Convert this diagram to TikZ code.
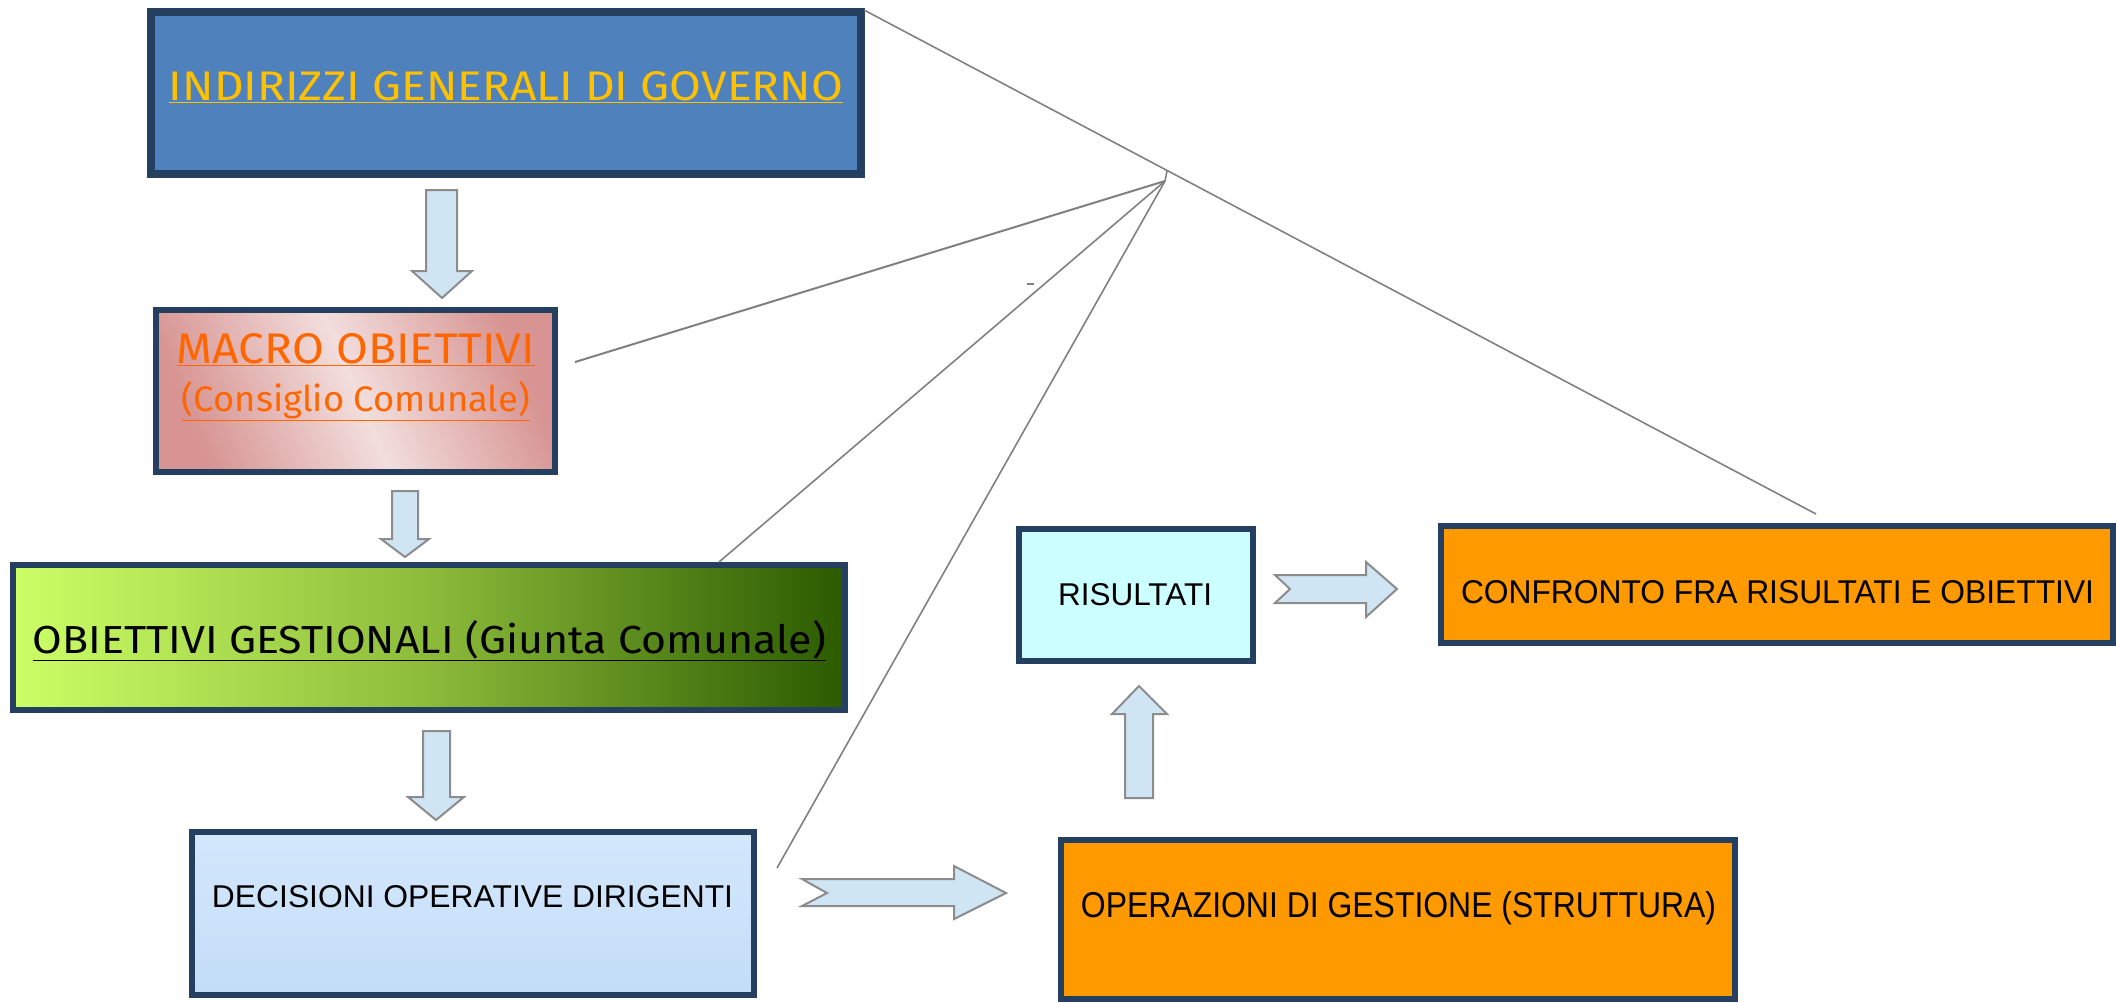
\documentclass[tikz,border=0pt]{standalone}
\usepackage{fontspec}
\setmainfont{Liberation Sans}
\newfontfamily\comicfont{Fira Sans}
\usepackage{graphicx}
\definecolor{navy}{HTML}{243F60}
\definecolor{topblue}{HTML}{4F81BD}
\definecolor{yellowT}{HTML}{FFC000}
\definecolor{orangeT}{HTML}{FF6600}
\definecolor{pinkD}{HTML}{D79492}
\definecolor{pinkL}{HTML}{F2DEDD}
\definecolor{greenL}{HTML}{CCFF66}
\definecolor{greenM}{HTML}{8CBB3A}
\definecolor{greenR}{HTML}{2B5A00}
\definecolor{skyT}{HTML}{D3E7FC}
\definecolor{skyB}{HTML}{C2DCF8}
\definecolor{orangeF}{HTML}{FF9900}
\definecolor{cyanF}{HTML}{CCFFFF}
\definecolor{arrowfill}{HTML}{D0E5F4}
\definecolor{arrowdraw}{HTML}{8C8C8C}
\definecolor{linegray}{HTML}{808080}
\newcommand{\ftext}[4]{\resizebox{#1pt}{#2pt}{\fontsize{#3pt}{#3pt}\selectfont #4}}
\begin{document}
\begin{tikzpicture}[x=1pt,y=-1pt,
  box/.style={rectangle, draw=navy, line width=6pt, inner sep=0pt, outer sep=0pt},
  blockarrow/.style={fill=arrowfill, draw=arrowdraw, line width=2pt, line join=miter},
  link/.style={draw=linegray, line width=1.6pt},
  lbl/.style={anchor=base, inner sep=0pt, outer sep=0pt}]
\useasboundingbox (0,0) rectangle (2116,1002);

% boxes
\node[box, line width=8pt, fill=topblue, minimum width=710pt, minimum height=162pt] (top) at (506,93) {};
\node[box, left color=pinkD, right color=pinkD, middle color=pinkL, shading angle=-67, minimum width=399pt, minimum height=162pt] (macro) at (355.5,391) {};
\node[box, left color=greenL, right color=greenR, middle color=greenM, minimum width=832pt, minimum height=145pt] (gest) at (429,637.5) {};
\node[box, top color=skyT, bottom color=skyB, middle color=skyT!60!skyB, minimum width=562pt, minimum height=163pt] (dec) at (473,913.5) {};
\node[box, fill=orangeF, minimum width=674pt, minimum height=159pt] (oper) at (1398,919.5) {};
\node[box, fill=cyanF, minimum width=234pt, minimum height=132pt] (ris) at (1136,595) {};
\node[box, fill=orangeF, minimum width=672pt, minimum height=117pt] (conf) at (1777,584.5) {};

% texts
\node[lbl, text=yellowT] (t1) at (506,100) {\ftext{674}{29}{40}{\comicfont\underline{INDIRIZZI GENERALI DI GOVERNO}}};
\node[lbl, text=orangeT] (t2) at (356,363) {\ftext{358}{30}{42}{\comicfont\underline{MACRO OBIETTIVI}}};
\node[lbl, text=orangeT] (t3) at (356,411) {\ftext{348}{30}{40}{\comicfont\underline{(Consiglio Comunale)}}};
\node[lbl, text=black] (t4) at (429.5,653) {\ftext{793}{33}{42}{\comicfont\underline{OBIETTIVI GESTIONALI (Giunta Comunale)}}};
\node[lbl] (t5) at (472.5,907) {\ftext{521}{22}{31}{DECISIONI OPERATIVE DIRIGENTI}};
\node[lbl] (t6) at (1398.5,917) {\ftext{635}{26}{34}{OPERAZIONI DI GESTIONE (STRUTTURA)}};
\node[lbl] (t7) at (1135,605) {\ftext{154}{22}{31}{RISULTATI}};
\node[lbl] (t8) at (1777.5,603) {\ftext{633}{23}{32}{CONFRONTO FRA RISULTATI E OBIETTIVI}};

% block arrows
\draw[blockarrow] (426,190) -- (457,190) -- (457,271) -- (472,271) -- (442,298) -- (412,271) -- (426,271) -- cycle;
\draw[blockarrow] (392,491) -- (418,491) -- (418,539) -- (429,539) -- (405,557) -- (381,539) -- (392,539) -- cycle;
\draw[blockarrow] (423,731) -- (450,731) -- (450,797) -- (464,797) -- (436,820) -- (408,797) -- (423,797) -- cycle;
\draw[blockarrow] (1125,798) -- (1153,798) -- (1153,714) -- (1167,714) -- (1139,686) -- (1112,714) -- (1125,714) -- cycle;
\draw[blockarrow] (802,879) -- (954,879) -- (954,866) -- (1006,893) -- (954,919) -- (954,906) -- (802,906) -- (827,893) -- cycle;
\draw[blockarrow] (1275,575) -- (1366,575) -- (1366,562) -- (1397,589) -- (1366,617) -- (1366,603) -- (1275,603) -- (1290,589) -- cycle;

% gray lines
\coordinate (apex) at (1165,181);
\coordinate (endA) at (1816,514);
\coordinate (startB) at (575,362);
\coordinate (startC) at (719,562);
\coordinate (startD) at (777,868);
\coordinate (tickTop) at (1167,171);
\coordinate (dashL) at (1027,284);
\coordinate (dashR) at (1034,284);
\draw[link] ([shift={(3,-2)}]top.north east) -- (endA);
\draw[link, line width=2pt] (startB) -- (apex);
\draw[link] (startC) -- (apex);
\draw[link] (startD) -- (apex);
\draw[link] (apex) -- (tickTop);
\draw[link, line width=2.2pt] (dashL) -- (dashR);
\end{tikzpicture}
\end{document}
